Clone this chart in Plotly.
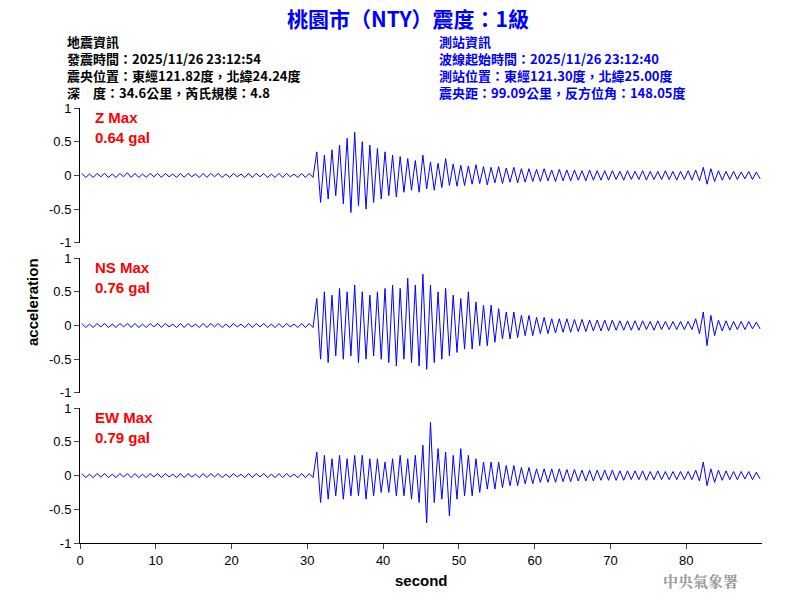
import plotly.graph_objects as go

seconds = list(range(90))
z_up = [.03,.02,.03,.03,.02,.03,.04,.03,.02,.03, .03,.03,.02,.03,.03,.02,.03,.03,.03,.02,
        .03,.02,.03,.03,.03,.02,.03,.03,.02,.03, .03,.35,.30,.38,.45,.55,.64,.50,.45,.40,
        .35,.30,.28,.25,.22,.30,.20,.18,.25,.17, .15,.14,.16,.13,.12,.13,.11,.12,.10,.10,
        .09,.10,.08,.09,.08,.08,.07,.08,.07,.07, .07,.06,.07,.06,.07,.06,.06,.07,.06,.06,
        .07,.08,.12,.10,.07,.06,.06,.05,.06,.05]
z_lo = [-.03,-.03,-.02,-.03,-.03,-.02,-.03,-.03,-.03,-.02, -.03,-.02,-.03,-.03,-.02,-.03,-.03,-.02,-.03,-.03,
        -.02,-.03,-.03,-.02,-.03,-.03,-.03,-.02,-.03,-.03, -.03,-.40,-.35,-.30,-.42,-.55,-.45,-.50,-.40,-.35,
        -.30,-.32,-.25,-.22,-.25,-.20,-.22,-.18,-.15,-.16, -.15,-.13,-.12,-.14,-.11,-.12,-.10,-.11,-.10,-.09,
        -.09,-.08,-.09,-.08,-.08,-.07,-.08,-.07,-.07,-.07, -.06,-.07,-.06,-.06,-.07,-.06,-.06,-.06,-.07,-.06,
        -.07,-.08,-.13,-.09,-.07,-.06,-.06,-.05,-.06,-.05]
ns_up = [.03,.02,.03,.03,.02,.03,.03,.03,.02,.03, .03,.03,.02,.03,.03,.02,.03,.03,.03,.02,
         .03,.02,.03,.03,.03,.02,.03,.03,.02,.03, .03,.40,.50,.45,.55,.50,.60,.50,.45,.50,
         .55,.60,.55,.70,.60,.76,.60,.50,.55,.45, .40,.50,.35,.30,.30,.25,.20,.20,.15,.15,
         .12,.12,.10,.10,.10,.09,.09,.08,.08,.08, .08,.07,.07,.07,.07,.06,.07,.06,.06,.06,
         .06,.10,.20,.15,.08,.07,.06,.06,.06,.05]
ns_lo = [-.03,-.03,-.02,-.03,-.03,-.02,-.03,-.03,-.03,-.02, -.03,-.02,-.03,-.03,-.02,-.03,-.03,-.02,-.03,-.03,
         -.02,-.03,-.03,-.02,-.03,-.03,-.03,-.02,-.03,-.03, -.03,-.50,-.55,-.45,-.50,-.45,-.55,-.50,-.45,-.50,
         -.55,-.60,-.50,-.55,-.60,-.65,-.55,-.50,-.45,-.40, -.35,-.35,-.30,-.30,-.25,-.20,-.20,-.18,-.15,-.15,
         -.12,-.12,-.11,-.10,-.10,-.09,-.09,-.08,-.08,-.08, -.07,-.07,-.07,-.07,-.06,-.07,-.06,-.06,-.06,-.06,
         -.06,-.12,-.30,-.15,-.08,-.07,-.06,-.06,-.05,-.05]
ew_up = [.03,.02,.03,.03,.02,.03,.03,.03,.02,.03, .03,.03,.02,.03,.03,.02,.03,.03,.03,.02,
         .03,.02,.03,.03,.03,.02,.03,.03,.02,.03, .03,.35,.30,.25,.30,.25,.30,.30,.25,.25,
         .20,.25,.30,.25,.30,.45,.79,.40,.35,.30, .40,.30,.25,.20,.20,.20,.15,.15,.12,.12,
         .10,.10,.10,.10,.09,.09,.08,.08,.08,.08, .08,.07,.07,.07,.07,.06,.07,.06,.06,.06,
         .06,.08,.20,.10,.08,.07,.06,.06,.06,.05]
ew_lo = [-.03,-.03,-.02,-.03,-.03,-.02,-.03,-.03,-.03,-.02, -.03,-.02,-.03,-.03,-.02,-.03,-.03,-.02,-.03,-.03,
         -.02,-.03,-.03,-.02,-.03,-.03,-.03,-.02,-.03,-.03, -.03,-.40,-.35,-.30,-.35,-.30,-.30,-.35,-.30,-.25,
         -.25,-.30,-.30,-.35,-.40,-.70,-.40,-.35,-.60,-.35, -.30,-.30,-.25,-.20,-.20,-.18,-.15,-.15,-.12,-.12,
         -.10,-.10,-.10,-.09,-.09,-.08,-.08,-.08,-.07,-.07, -.07,-.07,-.06,-.06,-.07,-.06,-.06,-.06,-.06,-.06,
         -.06,-.08,-.15,-.10,-.07,-.06,-.06,-.05,-.06,-.05]
labels = ["Z Max", "NS Max", "EW Max"]
maxvals = ["0.64 gal", "0.76 gal", "0.79 gal"]
ytickvals = [-1, -0.5, 0, 0.5, 1]
yticktext = ["-1", "-0.5", "0", "0.5", "1"]

def zig(up, lo):
    xs, ys = [], []
    for s, u, l in zip(seconds, up, lo):
        xs += [s + 0.25, s + 0.75]
        ys += [u, l]
    return xs, ys

fig = go.Figure()
domains = [(0.690, 1.0), (0.345, 0.655), (0.0, 0.310)]
series = [(z_up, z_lo), (ns_up, ns_lo), (ew_up, ew_lo)]
font = "Liberation Sans, Arial"
for i, ((up, lo), dom) in enumerate(zip(series, domains)):
    xs, ys = zig(up, lo)
    ax = "" if i == 0 else str(i + 1)
    fig.add_trace(go.Scatter(x=xs, y=ys, mode="lines", line=dict(color="#0000ff", width=1),
                             xaxis="x" + ax, yaxis="y" + ax, showlegend=False))
    fig.layout["yaxis" + ax] = dict(domain=dom, range=[-1, 1], tickvals=ytickvals, ticktext=yticktext,
                                    ticks="outside", ticklen=5, showline=True, linecolor="black",
                                    showgrid=False, zeroline=False, anchor="x" + ax,
                                    tickfont=dict(family=font, size=13, color="black"))
    fig.layout["xaxis" + ax] = dict(domain=[0, 1], range=[0, 90], anchor="y" + ax,
                                    showticklabels=(i == 2), showline=(i == 2), linecolor="black",
                                    ticks="outside" if i == 2 else "", tickvals=list(range(0, 90, 10)),
                                    showgrid=False, zeroline=False,
                                    tickfont=dict(family=font, size=13, color="black"),
                                    matches=None if i == 0 else "x")
    ytop = [127, 277, 427][i]
    fig.add_annotation(x=(93 - 80) / 682, y=(543 - ytop) / 435, xref="paper", yref="paper",
                       text="<b>" + labels[i] + "<br>" + maxvals[i] + "</b>", showarrow=False,
                       xanchor="left", yanchor="middle", align="left",
                       font=dict(family=font, size=15, color="red"))

cjk = "Noto Sans CJK TC"
def pa(px, py, txt, color, size, xanchor="left", fam=cjk, angle=0):
    fig.add_annotation(x=(px - 80) / 682, y=(543 - py) / 435, xref="paper", yref="paper",
                       text=txt, showarrow=False, xanchor=xanchor, yanchor="middle", align="left",
                       textangle=angle, font=dict(family=fam, size=size, color=color))

left = ["地震資訊", "發震時間：2025/11/26 23:12:54", "震央位置：東經121.82度，北緯24.24度",
        "深　度：34.6公里，芮氏規模：4.8"]
right = ["測站資訊", "波線起始時間：2025/11/26 23:12:40", "測站位置：東經121.30度，北緯25.00度",
         "震央距：99.09公里，反方位角：148.05度"]
pa(65, 67, "<b>" + "<br>".join(left) + "</b>", "black", 13)
pa(437, 67, "<b>" + "<br>".join(right) + "</b>", "#0000ff", 13)
pa(421, 580, "<b>second</b>", "black", 15, "center", font)
pa(32, 302, "<b>acceleration</b>", "black", 15, "center", font, -90)
pa(700, 580, "<b>中央氣象署</b>", "#999999", 15, "center", "Noto Serif CJK TC, Noto Sans CJK TC")

fig.update_layout(width=800, height=600, margin=dict(l=72, r=46, t=100, b=65),
                  plot_bgcolor="white", paper_bgcolor="white",
                  title=dict(text="<b>桃園市（NTY）震度：1級</b>", x=0.5, xanchor="center",
                             y=0.98, yanchor="middle",
                             font=dict(family=cjk, size=21, color="#0000ff")))
fig.write_html("out.html")
